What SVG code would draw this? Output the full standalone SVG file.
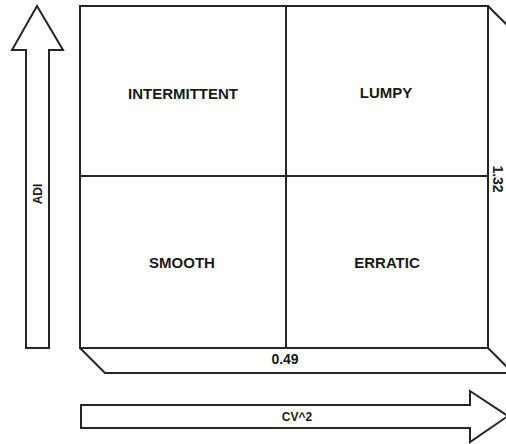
<svg xmlns="http://www.w3.org/2000/svg" width="506" height="444" viewBox="0 0 506 444">
<style>
.ln{fill:none;stroke:#262626;stroke-width:2;stroke-linejoin:miter}
.fl{fill:#fff;stroke:#262626;stroke-width:2}
.lbl{font-family:"Liberation Sans",Arial,sans-serif;font-weight:bold;fill:#1a1a1a;text-anchor:middle}
</style>
<rect width="506" height="444" fill="#fff"/>
<g id="adi-arrow">
<polygon class="fl" points="26,348 49,348 49,50 63,50 37,6 12,50 26,50"/>
<text class="lbl" font-size="12" transform="translate(42,194) rotate(-90)">ADI</text>
</g>
<g id="cv-arrow">
<polygon class="fl" points="81,405 470,405 470,391 508,416 470,442 470,428 81,428"/>
<text class="lbl" font-size="12" x="297" y="421">CV^2</text>
</g>
<g id="box3d">
<polyline class="ln" points="80,348 105,373 520,373"/>
<line class="ln" x1="488" y1="348" x2="513" y2="373"/>
<line class="ln" x1="488" y1="6" x2="513" y2="31"/>
<text class="lbl" font-size="14" x="285" y="364">0.49</text>
<text class="lbl" font-size="14" transform="translate(493,179) rotate(90)">1.32</text>
</g>
<g id="grid">
<rect class="ln" x="80" y="6" width="408" height="342"/>
<line class="ln" x1="286" y1="6" x2="286" y2="348"/>
<line class="ln" x1="80" y1="176" x2="488" y2="176"/>
</g>
<g id="intermittent"><text class="lbl" font-size="15" x="183" y="99">INTERMITTENT</text></g>
<g id="lumpy"><text class="lbl" font-size="15" x="386" y="98">LUMPY</text></g>
<g id="smooth"><text class="lbl" font-size="15" x="182" y="268">SMOOTH</text></g>
<g id="erratic"><text class="lbl" font-size="15" x="387" y="268">ERRATIC</text></g>
</svg>
